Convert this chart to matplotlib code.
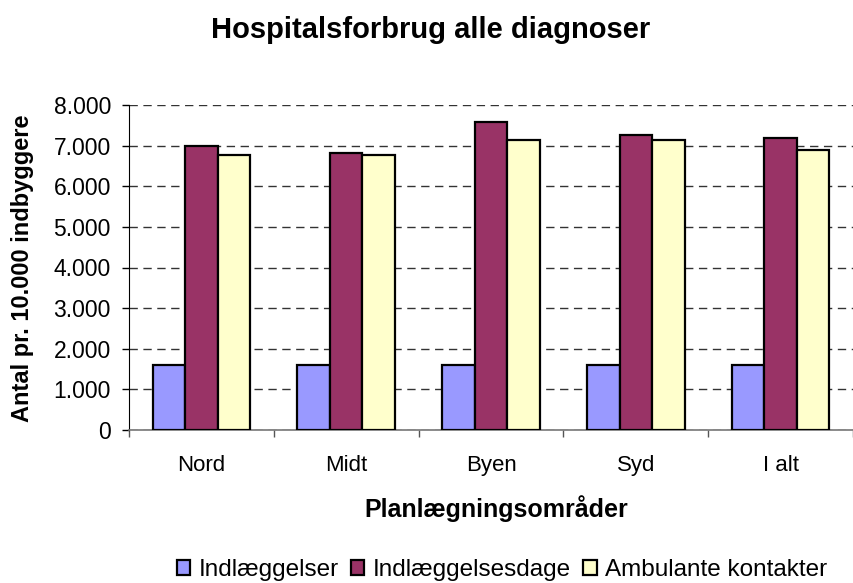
import numpy as np
import matplotlib.pyplot as plt
from matplotlib.ticker import FuncFormatter

plt.rcParams["font.family"] = ["Liberation Sans", "DejaVu Sans"]

# Data
omraader = ["Nord", "Midt", "Byen", "Syd", "I alt"]
indlaeggelser = [1600, 1600, 1600, 1600, 1600]
indlaeggelsesdage = [7000, 6810, 7590, 7270, 7180]
ambulante = [6770, 6770, 7130, 7130, 6900]
serier = ["Indlæggelser", "Indlæggelsesdage", "Ambulante kontakter"]
farver = ["#9999ff", "#993366", "#ffffcc"]

fig = plt.figure(figsize=(8.54, 5.83), dpi=100)
ax = fig.add_axes([129 / 854, 1 - 430 / 583, 724 / 854, 325 / 583])

x = np.arange(len(omraader))
w = 0.225
for i, (vals, lab, c) in enumerate(zip([indlaeggelser, indlaeggelsesdage, ambulante], serier, farver)):
    ax.bar(x + (i - 1) * w, vals, width=w, color=c, edgecolor="black", linewidth=1.6,
           label=lab, zorder=3)

ax.set_xlim(-0.5, len(omraader) - 0.5)
ax.set_ylim(0, 8000)
ax.set_yticks(np.arange(0, 8001, 1000))
ax.yaxis.set_major_formatter(FuncFormatter(lambda v, p: f"{int(v):,}".replace(",", ".")))
ax.yaxis.grid(True, linestyle=(0, (6, 4)), color="#333333", linewidth=1, zorder=0)

ax.set_xticks(x)
ax.set_xticklabels(omraader)
ax.set_xticks(np.arange(-0.5, len(omraader)), minor=True)
ax.tick_params(axis="x", which="major", length=0, pad=18, labelsize=16)
ax.tick_params(axis="x", which="minor", length=5, width=1, color="#555555")
ax.tick_params(axis="y", length=5, width=1, pad=8, labelsize=16.5)

for s in ["top", "right"]:
    ax.spines[s].set_visible(False)
ax.spines["left"].set_color("black")
ax.spines["bottom"].set_color("#777777")
ax.spines["bottom"].set_linewidth(1.2)

fig.text(496 / 854, 1 - 517 / 583, "Planlægningsområder", ha="center", va="baseline",
         fontsize=18, fontweight="bold")
fig.text(23 / 854, 1 - 268 / 583, "Antal pr. 10.000 indbyggere", ha="center", va="center",
         rotation=90, fontsize=17, fontweight="bold")
fig.text(431 / 854, 1 - 38 / 583, "Hospitalsforbrug alle diagnoser", ha="center", va="baseline",
         fontsize=21, fontweight="bold")

fig.legend(loc="center", bbox_to_anchor=(502 / 854, 1 - 570 / 583), ncol=3, frameon=False,
           fontsize=17.5, handlelength=0.55, handleheight=0.55, handletextpad=0.35,
           columnspacing=0.5)

plt.savefig("out.png", dpi=100)
